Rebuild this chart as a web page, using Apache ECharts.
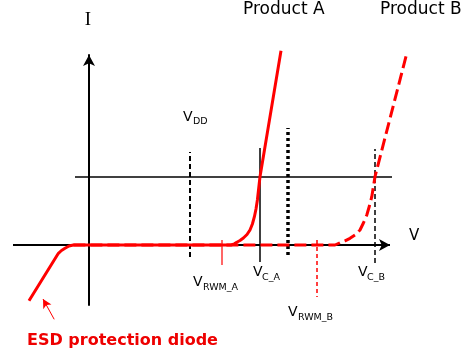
<!DOCTYPE html>
<html><head><meta charset="utf-8">
<script src="https://cdn.jsdelivr.net/npm/echarts@6/dist/echarts.min.js"></script>
<style>html,body{margin:0;padding:0;background:#fff}#c{width:474px;height:364px}</style>
</head><body><div id="c"></div>
<script>
// I-V characteristic (arbitrary units): V along x, I along y
const curveA = [[-3.0,-5.57],[-1.53,-0.83],[-1.375,-0.55],[-1.2,-0.33],[-1.0,-0.1],[-0.78,0],[7.1,0],[7.27,0.12],[7.39,0.28],[7.55,0.45],[7.72,0.7],[7.9,1.05],[8.05,1.5],[8.17,2.1],[8.27,2.83],[8.35,3.6],[8.42,4.5],[8.55,6.83],[9.6,19.43]];
const curveB = [[-0.78,0],[12.3,0],[12.55,0.23],[12.8,0.42],[13.05,0.67],[13.3,1.0],[13.55,1.5],[13.72,2.2],[13.89,3.0],[14.02,3.9],[14.14,4.83],[14.3,6.83],[15.89,19.17]];
const vMarkers = { VDD: 5.05, VRWM_A: 6.65, VC_A: 8.55, VMAX: 9.95, VRWM_B: 11.4, VC_B: 14.3 };
const iClamp = 6.8;
const esdArrow = [[-1.74,-7.43],[-2.3,-5.4]];
const vAxisEnd = [-3.8, 15.05];

const RED = '#ff0000';
function seg(data, color, width, type, z){
  return { type:'line', data, showSymbol:false, symbol:'none', clip:false, silent:true, z:z||2,
    lineStyle:{ color, width, type: type||'solid' } };
}
const series = [
  Object.assign(seg([[vAxisEnd[0],0], { value:[vAxisEnd[1],0], symbol:'arrow', symbolSize:[9,11], symbolRotate:-90, itemStyle:{color:'#000'} }], '#000', 2, 'solid', 1), { showSymbol:true }),
  seg([[-0.7,iClamp],[15.15,iClamp]], '#000', 1.5, 'solid', 2),
  seg([[vMarkers.VDD,-1.2],[vMarkers.VDD,9.3]], '#000', 2, [5,3], 2),
  seg([[vMarkers.VC_A,-1.7],[vMarkers.VC_A,9.7]], '#000', 1.5, 'solid', 2),
  seg([[vMarkers.VMAX,-1.0],[vMarkers.VMAX,11.7]], '#000', 3.5, [3,3], 2),
  seg([[vMarkers.VC_B,-1.8],[vMarkers.VC_B,9.6]], '#000', 1.5, [5,3], 2),
  seg([[vMarkers.VRWM_A,0.5],[vMarkers.VRWM_A,-2.0]], RED, 1.2, 'solid', 2),
  seg([[vMarkers.VRWM_B,0.5],[vMarkers.VRWM_B,-5.2]], RED, 1.5, [4,3], 2),
  seg(curveA, RED, 3, 'solid', 5),
  seg(curveB, RED, 3, [12,5], 6),
  Object.assign(seg([esdArrow[0], { value: esdArrow[1], symbol:'arrow', symbolSize:[7,9], symbolRotate:29, itemStyle:{color:RED} }], RED, 1, 'solid', 3), { showSymbol:true })
];

function txt(x,y,text,size,opts){
  return { type:'text', x, y, silent:true, style:Object.assign({ text, fontSize:size,
    fontFamily:'DejaVu Sans', fill:'#000', textAlign:'left', textVerticalAlign:'middle' }, opts||{}) };
}
const graphics = [
  txt(243,10,'Product A',17),
  txt(380,10,'Product B',17),
  txt(88,20,'I',19,{fontFamily:'Liberation Serif', textAlign:'center'}),
  txt(409,236,'V',15),
  txt(183,117,'V',14), txt(193,122,'DD',9.5),
  txt(193,282,'V',14), txt(203,288,'RWM_A',9.5),
  txt(253,272,'V',14), txt(262,278,'C_A',9.5),
  txt(358,272,'V',14), txt(367,278,'C_B',9.5),
  txt(288,312,'V',14), txt(298,318,'RWM_B',9.5),
  txt(27,341,'ESD protection diode',16,{fill:'#ee0000', fontWeight:'bold'})
];

const chart = echarts.init(document.getElementById('c'), null, {renderer:'canvas'});
const hidden = { type:'value', axisTick:{show:false}, axisLabel:{show:false}, splitLine:{show:false} };
chart.setOption({
  animation:false,
  backgroundColor:'#fff',
  grid:{ left:13, right:55, top:55, bottom:59 },
  xAxis:Object.assign({ min:-3.8, max:16.5, axisLine:{show:false} }, hidden),
  yAxis:Object.assign({ min:-6, max:19,
    axisLine:{ show:true, onZero:true, symbol:['none','arrow'], symbolSize:[9,11], lineStyle:{color:'#000', width:2} } }, hidden),
  series,
  graphic:graphics
});
</script></body></html>
